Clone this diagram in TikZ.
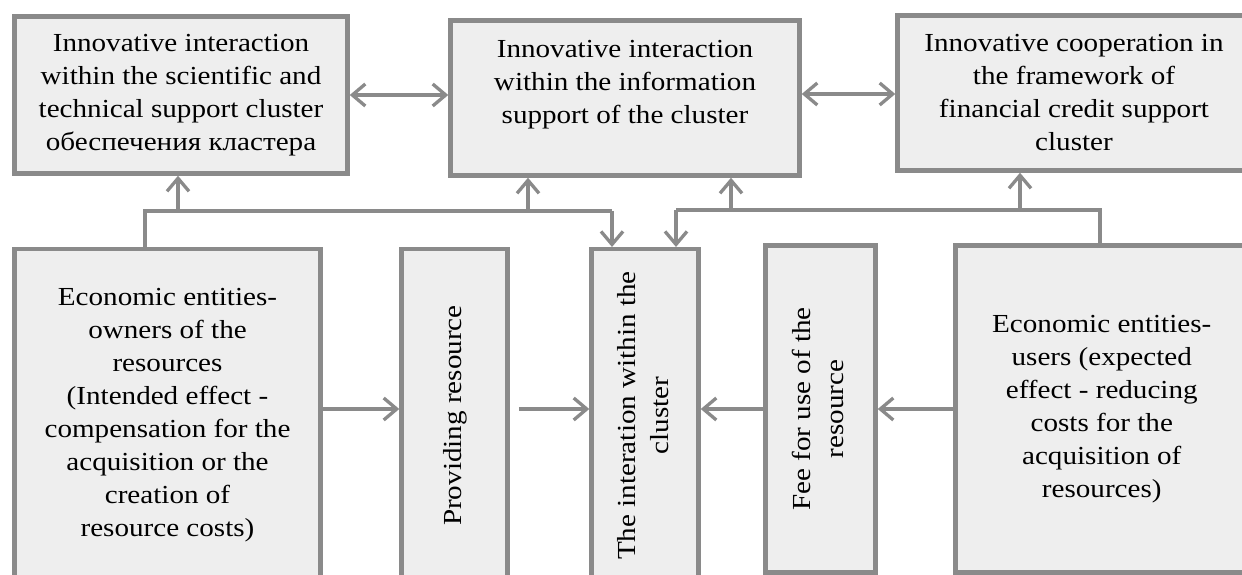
\documentclass[tikz,border=0pt]{standalone}
\usepackage{fontspec}
\setmainfont[FakeStretch=1.12]{Liberation Serif}
\usetikzlibrary{arrows.meta, positioning, calc}
\definecolor{boxgray}{RGB}{138,138,138}
\definecolor{boxfill}{RGB}{238,238,238}
\tikzstyle{block} = [draw=boxgray, fill=boxfill, line width=4.5pt, inner sep=0pt, align=center, font=\fontsize{26}{33}\selectfont]
\tikzstyle{link} = [draw=boxgray, line width=3.3pt]
\tikzstyle{arr} = [link, -{Straight Barb[length=13pt,width=22pt]}]
\tikzstyle{darr} = [link, {Straight Barb[length=13pt,width=22pt]}-{Straight Barb[length=13pt,width=22pt]}]
\newcommand{\vtext}[1]{\rotatebox{90}{\begin{tabular}{@{}c@{}}#1\end{tabular}}}

\begin{document}
\begin{tikzpicture}[x=1pt, y=-1pt]
		\useasboundingbox (0,0) rectangle (1242,575);
		\fill[white] (0,0) rectangle (1242,575);

		\coordinate (sci) at (181,   95);
		\coordinate (inf) at (625,   98);
		\coordinate (fin) at (1074,  93);
		\coordinate (own) at (167.5, 415.6);
		\coordinate (pro) at (454.5, 415.6);
		\coordinate (int) at (645,   415.6);
		\coordinate (fee) at (820.5, 409.1);
		\coordinate (usr) at (1101.75, 409.1);

		\node[block, minimum width=333pt, minimum height=157pt] (SCI) at (sci) {Innovative interaction\\within the scientific and\\technical support cluster\\обеспечения кластера};
		\node[block, minimum width=349pt, minimum height=155pt] (INF) at (inf) {Innovative interaction\\within the information\\support of the cluster\\~};
		\node[block, minimum width=353pt, minimum height=155pt] (FIN) at (fin) {Innovative cooperation in\\the framework of\\financial credit support\\cluster};
		\node[block, minimum width=306pt, minimum height=332.75pt] (OWN) at (own) {Economic entities-\\owners of the\\resources\\(Intended effect -\\compensation for the\\acquisition or the\\creation of\\resource costs)};
		\node[block, minimum width=106pt, minimum height=332.75pt] (PRO) at (pro) {\vtext{Providing resource}};
		\node[block, minimum width=107pt, minimum height=332.75pt] (INT) at (int) {\vtext{The interation within the\\cluster}};
		\node[block, minimum width=110pt, minimum height=327.25pt] (FEE) at (fee) {\vtext{Fee for use of the\\resource}};
		\node[block, minimum width=292.5pt, minimum height=327.25pt] (USR) at (usr) {Economic entities-\\users (expected\\effect - reducing\\costs for the\\acquisition of\\resources)};

		% links between the upper blocks
		\coordinate (up1) at (0, 95);
		\coordinate (up2) at (0, 94);
		\draw[darr] (SCI.east |- up1) -- (INF.west |- up1);
		\draw[darr] (INF.east |- up2) -- (FIN.west |- up2);

		% left bus
		\coordinate (lbus) at (145,  211);
		\coordinate (lsci) at (178,  211);
		\coordinate (linf) at (528,  211);
		\coordinate (lint) at (612,  211);
		\draw[link] (OWN.north -| lbus) -- (lbus) -- (lint);
		\draw[arr] (lint) -- (lint |- INT.north);
		\draw[arr] (lsci) -- (lsci |- SCI.south);
		\draw[arr] (linf) -- (linf |- INF.south);

		% right bus
		\coordinate (rbus) at (1100, 210);
		\coordinate (rfin) at (1020, 210);
		\coordinate (rinf) at (731,  210);
		\coordinate (rint) at (676,  210);
		\draw[link] (USR.north -| rbus) -- (rbus) -- (rint);
		\draw[arr] (rint) -- (rint |- INT.north);
		\draw[arr] (rinf) -- (rinf |- INF.south);
		\draw[arr] (rfin) -- (rfin |- FIN.south);

		% flows in the lower row
		\coordinate (mid) at (0, 409);
		\draw[arr] (OWN.east |- mid) -- (PRO.west |- mid);
		\draw[arr, shorten <=9pt] (PRO.east |- mid) -- (INT.west |- mid);
		\draw[arr] (FEE.west |- mid) -- (INT.east |- mid);
		\draw[arr] (USR.west |- mid) -- (FEE.east |- mid);

	\end{tikzpicture}
\end{document}
